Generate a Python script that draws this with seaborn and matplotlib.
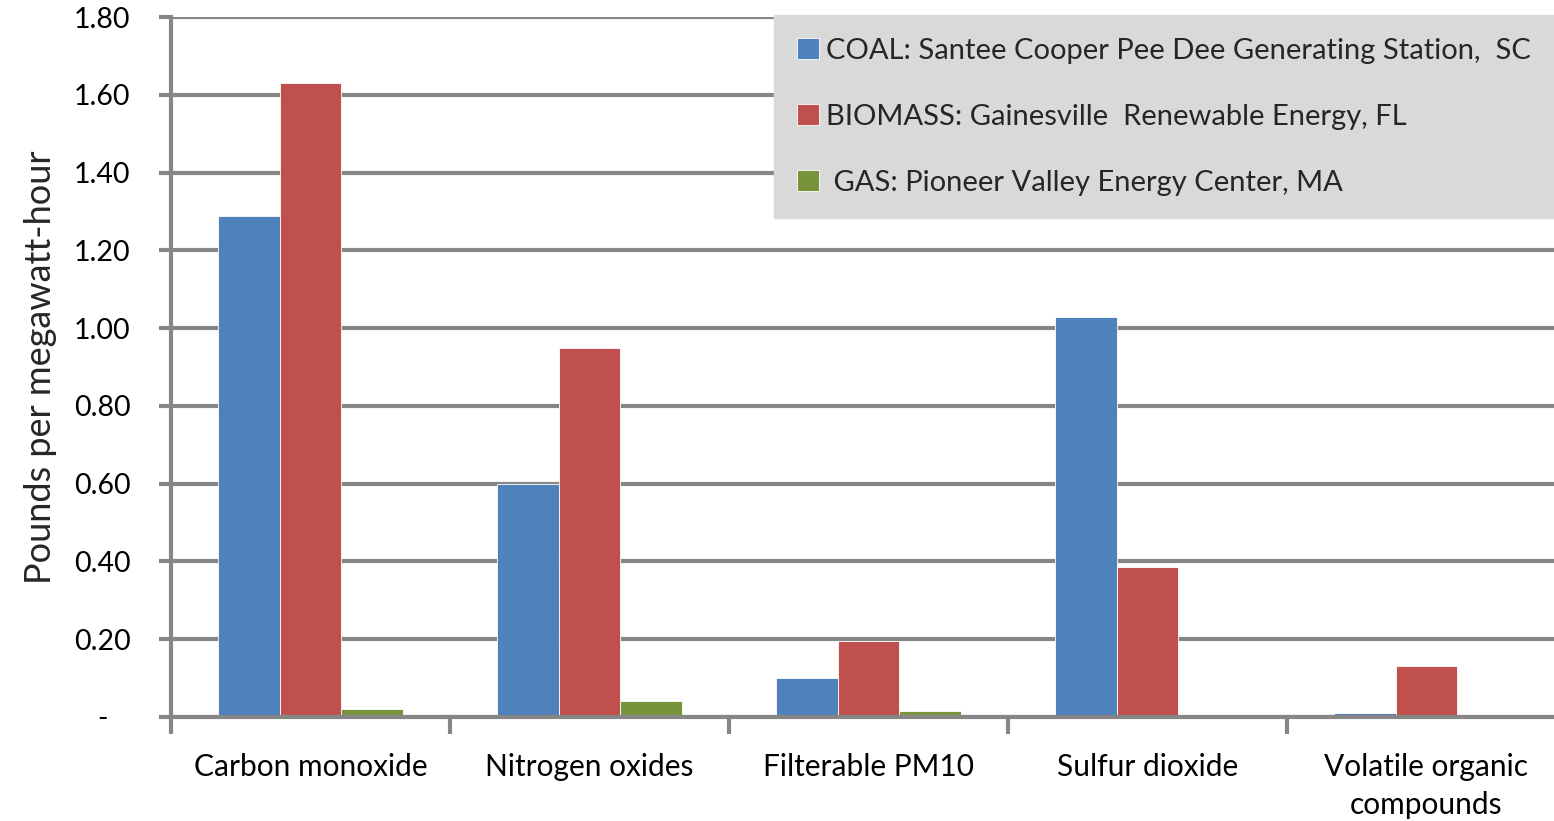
import matplotlib
matplotlib.use("Agg")
import matplotlib.pyplot as plt
import matplotlib.ticker as mticker
import pandas as pd
import seaborn as sns

# Emission rates (lb/MWh) by pollutant for three power plants
pollutants = ["Carbon monoxide", "Nitrogen oxides", "Filterable PM10",
              "Sulfur dioxide", "Volatile organic\ncompounds"]
plants = ["COAL: Santee Cooper Pee Dee Generating Station,  SC",
          "BIOMASS: Gainesville  Renewable Energy, FL",
          " GAS: Pioneer Valley Energy Center, MA"]
coal = [1.29, 0.60, 0.10, 1.03, 0.01]
biomass = [1.63, 0.95, 0.195, 0.385, 0.13]
gas = [0.02, 0.042, 0.015, 0.0, 0.0]
colors = ["#4F81BD", "#C0504D", "#77933C"]
y_ticks = [0.0, 0.2, 0.4, 0.6, 0.8, 1.0, 1.2, 1.4, 1.6, 1.8]

rows = []
for plant, vals in zip(plants, [coal, biomass, gas]):
    for p, v in zip(pollutants, vals):
        rows.append({"pollutant": p, "plant": plant, "value": v})
df = pd.DataFrame(rows)

sns.set_style("white")
plt.rcParams["font.family"] = ["Lato", "DejaVu Sans"]

grid_c = "#868686"
fig = plt.figure(figsize=(15.54, 8.21), dpi=100)
# the plot area runs slightly past the right edge of the canvas
ax = fig.add_axes([0.110, 0.1267, 0.8977, 0.8523])

sns.barplot(data=df, x="pollutant", y="value", hue="plant", order=pollutants,
            hue_order=plants, palette=colors, saturation=1, width=0.66,
            edgecolor="white", linewidth=0.6, ax=ax, zorder=3)

ax.set_ylim(0, 1.8)
ax.set_xlim(-0.5, len(pollutants) - 0.5)
ax.set_yticks(y_ticks)
ax.yaxis.set_major_formatter(mticker.FuncFormatter(
    lambda v, pos: "-   " if abs(v) < 1e-9 else f"{v:.2f}"))
ax.grid(axis="y", color=grid_c, linewidth=3, zorder=0)
ax.set_axisbelow(True)

for side in ["top", "right"]:
    ax.spines[side].set_visible(False)
for side in ["left", "bottom"]:
    ax.spines[side].set_color(grid_c)
    ax.spines[side].set_linewidth(3)
    ax.spines[side].set_zorder(4)

ax.tick_params(axis="y", direction="out", length=9, width=3, color=grid_c,
               pad=20, labelsize=20.5, labelcolor="black", left=True)
ax.tick_params(axis="x", which="major", length=0, pad=26, labelsize=21.5,
               labelcolor="black")
for lbl in ax.get_xticklabels():
    lbl.set_linespacing(1.45)
ax.set_xticks([i + 0.5 for i in range(-1, len(pollutants))], minor=True)
ax.tick_params(axis="x", which="minor", direction="out", length=12, width=3,
               color=grid_c, bottom=True)
ax.set_xlabel("")
ax.set_ylabel("Pounds per megawatt-hour", fontsize=26, labelpad=12)

leg = ax.legend(loc="upper right", bbox_to_anchor=(1.0, 1 - 15 / 821),
                bbox_transform=fig.transFigure, fontsize=21,
                frameon=True, fancybox=False, facecolor="#D9D9D9",
                edgecolor="#D9D9D9", framealpha=1, handlelength=0.75,
                handleheight=0.75, handletextpad=0.25, labelspacing=1.37,
                borderpad=0.78, borderaxespad=0)
leg.set_zorder(5)

fig.savefig("out.png", dpi=100)
